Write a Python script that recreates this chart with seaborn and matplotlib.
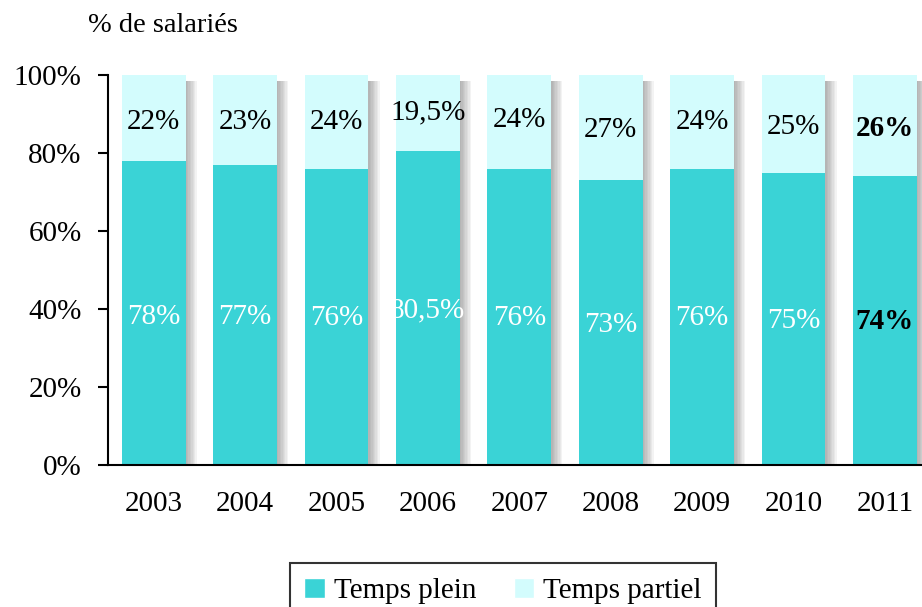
import seaborn as sns
import matplotlib.pyplot as plt
import matplotlib.patheffects as pe
from matplotlib.patches import Patch
import numpy as np
import pandas as pd

# Data (% of employees)
years = ["2003", "2004", "2005", "2006", "2007", "2008", "2009", "2010", "2011"]
temps_plein = [78, 77, 76, 80.5, 76, 73, 76, 75, 74]
temps_partiel = [22, 23, 24, 19.5, 24, 27, 24, 25, 26]
labels_plein = ["78%", "77%", "76%", "80,5%", "76%", "73%", "76%", "75%", "74%"]
labels_partiel = ["22%", "23%", "24%", "19,5%", "24%", "27%", "24%", "25%", "26%"]

# where the labels sit inside the bars (y in %)
pos_plein = [38, 38, 37.7, 39.7, 37.7, 35.9, 37.7, 36.9, 36.7]
pos_partiel = [88, 88, 88, 90.3, 88.5, 86, 88, 86.7, 86.2]

df = pd.DataFrame({"Année": years, "Temps plein": temps_plein, "Temps partiel": temps_partiel})
df["Total"] = df["Temps plein"] + df["Temps partiel"]

teal = "#3AD3D6"
light = "#D3FCFD"

sns.set_theme(style="white")
plt.rcParams["font.family"] = ["Liberation Serif", "DejaVu Serif"]
plt.rcParams["text.color"] = "black"
plt.rcParams["xtick.color"] = "black"
plt.rcParams["ytick.color"] = "black"

fig = plt.figure(figsize=(9.22, 6.07), dpi=100)
ax = fig.add_axes([108 / 922, 1 - 465 / 607, 822.6 / 922, 390 / 607])

sns.barplot(data=df, x="Année", y="Total", color=light, width=0.7, saturation=1, linewidth=0, ax=ax)
sns.barplot(data=df, x="Année", y="Temps plein", color=teal, width=0.7, saturation=1, linewidth=0, ax=ax)

# soft gradient shadow on the right of each bar
shadow = [pe.SimplePatchShadow(offset=(k, -4), shadow_rgbFace="#606060", alpha=0.07) for k in range(1, 9)]
for p in ax.patches[:len(years)]:
    p.set_path_effects(shadow + [pe.Normal()])

for i in range(len(years)):
    w = "bold" if i == len(years) - 1 else "normal"
    ax.text(i, pos_partiel[i], labels_partiel[i], ha="center", va="center", fontsize=21, color="black", fontweight=w)
    ax.text(i, pos_plein[i], labels_plein[i], ha="center", va="center", fontsize=21,
            color="black" if w == "bold" else "white", fontweight=w)

ax.set_xlim(-0.5, 8.5)
ax.set_ylim(0, 100)
ax.set_xlabel("")
ax.set_ylabel("")
ax.set_xticks(range(len(years)))
ax.set_xticklabels(years, fontsize=21)
ax.set_xticks(np.arange(-0.5, len(years), 1), minor=True)
ax.set_yticks(range(0, 101, 20))
ax.set_yticklabels([f"{v}%" for v in range(0, 101, 20)], fontsize=21)
ax.tick_params(axis="x", which="major", length=0, pad=19)
ax.tick_params(axis="x", which="minor", length=7, width=1.5, direction="out", color="black")
ax.tick_params(axis="y", length=7, width=1.5, direction="out", color="black", pad=12, left=True)
ax.spines["top"].set_visible(False)
ax.spines["right"].set_visible(False)
for s in ["left", "bottom"]:
    ax.spines[s].set_linewidth(1.5)
    ax.spines[s].set_color("black")

fig.text(88 / 922, 1 - 25 / 607, "% de salariés", fontsize=20.5, va="center", ha="left")

handles = [Patch(facecolor=teal, label="Temps plein"), Patch(facecolor=light, label="Temps partiel")]
leg = fig.legend(handles=handles, loc="upper center", bbox_to_anchor=(503 / 922, 1 - 563 / 607), ncol=2,
                 frameon=True, fancybox=False, edgecolor="black", fontsize=21, handlelength=0.7,
                 handleheight=0.7, handletextpad=0.3, columnspacing=1.3, borderpad=0.5,
                 borderaxespad=0)
leg.get_frame().set_linewidth(1.5)

fig.savefig("out.png", dpi=100)
